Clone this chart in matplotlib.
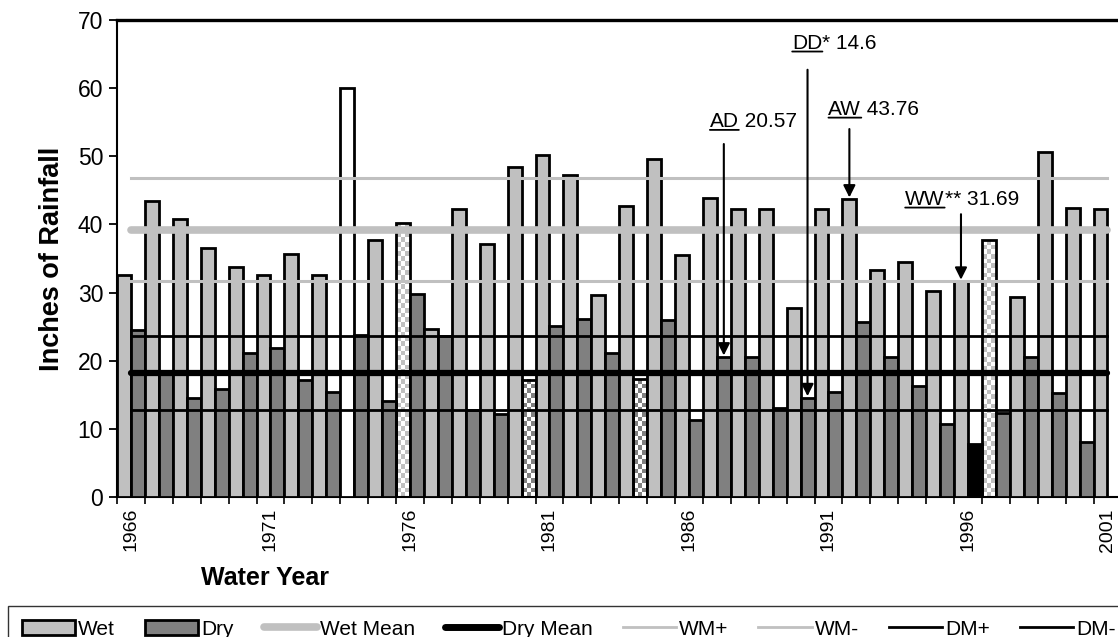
import numpy as np
import matplotlib
matplotlib.use("Agg")
import matplotlib.pyplot as plt
from matplotlib.patches import Patch
from matplotlib.lines import Line2D
from matplotlib.colors import ListedColormap

plt.rcParams['font.family'] = ['Liberation Sans', 'DejaVu Sans']

# data
years = list(range(1966, 2002))
wet = [32.6, 43.4, 40.8, 36.5, 33.7, 32.6, 35.6, 32.6, 60.0, 37.7,
       40.2, 24.7, 42.2, 37.1, 48.4, 50.2, 47.2, 29.6, 42.7, 49.6,
       35.5, 43.9, 42.3, 42.3, 27.7, 42.3, 43.76, 33.3, 34.5, 30.2,
       31.69, 37.7, 29.3, 50.7, 42.4, 42.3]
dry = [24.5, 18.0, 14.5, 15.9, 21.1, 21.9, 17.2, 15.4, 23.8, 14.1,
       29.8, 23.7, 12.8, 12.2, 17.2, 25.1, 26.1, 21.1, 17.3, 26.0,
       11.3, 20.57, 20.6, 13.0, 14.6, 15.4, 25.7, 20.6, 16.3, 10.7,
       7.8, 12.4, 20.6, 15.2, 8.0, np.nan]

wet_mean, wm_plus, wm_minus = 39.2, 46.8, 31.7
dry_mean, dm_plus, dm_minus = 18.2, 23.7, 12.7

# special bars
wet_white = [1974]
wet_checker = [1976, 1997]
dry_checker = [1980, 1984]
dry_black = [1996]

# annotations: label, rest, year, series, text x, text y, arrow start y
notes = [
    ('AD', ' 20.57', 1987, 'dry', 21.25, 55.1, 51.8),
    ('DD', '* 14.6', 1990, 'dry', 24.2, 66.6, 62.7),
    ('AW', ' 43.76', 1992, 'wet', 25.5, 56.9, 54.0),
    ('WW', '** 31.69', 1996, 'wet', 28.25, 43.7, 41.5),
]

WET_C = '#c0c0c0'
DRY_C = '#808080'

fig = plt.figure(figsize=(11.18, 6.37), dpi=100)
n = len(years)
ax = fig.add_axes([117 / 1118, 140 / 637, (n * 27.9) / 1118, 477 / 637])

idx = np.arange(n)
bw = 0.5


def checker(x0, h, color):
    nx = 3
    ny = max(1, int(round(h * 6.8 / 4.7)))
    grid = np.indices((ny, nx)).sum(axis=0) % 2
    ax.imshow(grid, extent=(x0, x0 + bw, 0, h), cmap=ListedColormap(['white', color]),
              aspect='auto', interpolation='nearest', origin='lower', zorder=2)


for i, y in enumerate(years):
    # wet bar
    fc = WET_C
    if y in wet_white:
        fc = 'white'
    if y in wet_checker:
        checker(i, wet[i], WET_C)
        fc = 'none'
    ax.bar(i, wet[i], width=bw, align='edge', facecolor=fc, edgecolor='black',
           linewidth=2.0, zorder=3)
    # dry bar
    if np.isfinite(dry[i]):
        fc = DRY_C
        if y in dry_black:
            fc = 'black'
        if y in dry_checker:
            checker(i + bw, dry[i], DRY_C)
            fc = 'none'
        ax.bar(i + bw, dry[i], width=bw, align='edge', facecolor=fc, edgecolor='black',
               linewidth=2.0, zorder=3)

# mean lines
centers = idx + 0.5
ax.plot(centers, np.full(n, wm_plus), color=WET_C, lw=2.2, zorder=4)
ax.plot(centers, np.full(n, wm_minus), color=WET_C, lw=2.2, zorder=4)
ax.plot(centers, np.full(n, wet_mean), color=WET_C, lw=5.5, solid_capstyle='round', zorder=4)
ax.plot(centers, np.full(n, dm_plus), color='black', lw=2.0, zorder=4)
ax.plot(centers, np.full(n, dm_minus), color='black', lw=2.0, zorder=4)
ax.plot(centers, np.full(n, dry_mean), color='black', lw=4.5, solid_capstyle='round', zorder=4)

# annotations
for lab, rest, yr, ser, tx, ty, ay in notes:
    i = years.index(yr)
    if ser == 'wet':
        x, v = i + 0.25, wet[i]
    else:
        x, v = i + 0.75, dry[i]
    t1 = ax.text(tx, ty, lab, ha='left', va='center', fontsize=15, zorder=6)
    ax.annotate('', xy=(0, 0.06), xycoords=t1, xytext=(1, 0.06), textcoords=t1,
                arrowprops=dict(arrowstyle='-', lw=1.3, color='black', shrinkA=0, shrinkB=0))
    ax.annotate(rest, xy=(1, 0.5), xycoords=t1, ha='left', va='center', fontsize=15)
    ax.annotate('', xy=(x, v + 0.2), xytext=(x, ay),
                arrowprops=dict(arrowstyle='-|>', lw=1.5, color='black', mutation_scale=18,
                                shrinkA=0, shrinkB=0), zorder=6)

ax.set_xlim(0, n)
ax.set_ylim(0, 70)
ax.set_yticks(range(0, 71, 10))
ax.tick_params(axis='y', direction='out', length=6, width=1.3, labelsize=16.5, pad=4)
ax.set_xticks(np.arange(0, n + 1), minor=True)
lab_idx = [i for i, y in enumerate(years) if (y - 1966) % 5 == 0]
ax.set_xticks([i + 0.5 for i in lab_idx])
ax.set_xticklabels([str(years[i]) for i in lab_idx], rotation=90)
ax.tick_params(axis='x', which='major', length=0, labelsize=14, pad=8)
ax.tick_params(axis='x', which='minor', direction='out', length=5, width=1.2)

for s in ['left', 'bottom']:
    ax.spines[s].set_linewidth(1.5)
ax.spines['top'].set_linewidth(2.4)

ax.set_ylabel('Inches of Rainfall', fontsize=19.5, fontweight='bold')
ax.yaxis.set_label_coords(-0.052, 0.5)
ax.set_xlabel('Water Year', fontsize=18, fontweight='bold')
ax.xaxis.set_label_coords(0.147, -0.145)

handles = [Patch(facecolor=WET_C, edgecolor='black', lw=2),
           Patch(facecolor=DRY_C, edgecolor='black', lw=2),
           Line2D([], [], color=WET_C, lw=5.5, solid_capstyle='round'),
           Line2D([], [], color='black', lw=5, solid_capstyle='round'),
           Line2D([], [], color=WET_C, lw=2),
           Line2D([], [], color=WET_C, lw=2),
           Line2D([], [], color='black', lw=2),
           Line2D([], [], color='black', lw=2)]
labels = ['Wet', 'Dry', 'Wet Mean', 'Dry Mean', 'WM+', 'WM-', 'DM+', 'DM-']
leg = fig.legend(handles, labels, loc='upper left', bbox_to_anchor=(8 / 1118, (637 - 606) / 637),
                 ncol=8, fontsize=15, frameon=True, fancybox=False, edgecolor='black',
                 handlelength=2.55, handletextpad=0.15, columnspacing=1.45, borderpad=0.65,
                 borderaxespad=0, handleheight=0.7)
leg.get_frame().set_linewidth(1.0)

fig.savefig('out.png', dpi=100)
